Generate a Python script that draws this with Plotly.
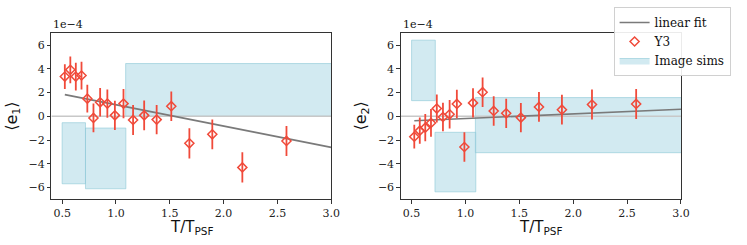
import plotly.graph_objects as go

# ---- data (y values in units of 1e-4) ----
t_ratio = [0.525, 0.576, 0.627, 0.680, 0.734, 0.791, 0.853, 0.920, 0.990, 1.070,
           1.159, 1.262, 1.378, 1.514, 1.682, 1.895, 2.174, 2.584]
e1_vals = [3.35, 3.92, 3.35, 3.44, 1.49, -0.14, 1.18, 1.07, 0.08, 1.07,
           -0.31, 0.08, -0.28, 0.85, -2.28, -1.52, -4.31, -2.08]
e1_errs = [1.04, 1.13, 1.17, 1.17, 1.18, 1.21, 1.20, 1.20, 1.24, 1.24,
           1.27, 1.25, 1.24, 1.24, 1.27, 1.25, 1.27, 1.27]
e2_vals = [-1.72, -1.21, -0.96, -0.56, 0.65, -0.06, 0.17, 1.04, -2.59, 1.13,
           2.03, 0.45, 0.25, -0.11, 0.79, 0.56, 0.99, 1.04]
e2_errs = [1.00, 1.10, 1.15, 1.17, 1.18, 1.20, 1.20, 1.20, 1.25, 1.24,
           1.25, 1.25, 1.24, 1.24, 1.25, 1.25, 1.27, 1.27]

fit_x = [0.525, 3.0]
fit_e1 = [1.83, -2.62]
fit_e2 = [-0.37, 0.59]

# image-sim boxes: [x0, x1, y0, y1]
sims_e1 = [[0.50, 0.717, -5.69, -0.54], [0.717, 1.092, -6.11, -0.99], [1.090, 3.05, 0.0, 4.45]]
sims_e2 = [[0.50, 0.720, 1.32, 6.42], [0.717, 1.096, -6.37, -1.35], [1.092, 3.05, -3.07, 1.58]]

x_ticks = [0.5, 1.0, 1.5, 2.0, 2.5, 3.0]
y_ticks = [-6, -4, -2, 0, 2, 4, 6]
x_range = [0.4, 3.0]
y_range = [-7, 7]

RED = "#f04a3a"
GRAY = "#7a7a7a"
FILL = "rgba(173,216,230,0.55)"
EDGE = "rgba(140,200,215,0.6)"
SERIF = "DejaVu Serif"
SANS = "DejaVu Sans"

fig = go.Figure()

def add_panel(xa, ya, vals, errs, fit_y, sims, show):
    for i, (x0, x1, y0, y1) in enumerate(sims):
        fig.add_trace(go.Scatter(
            x=[x0, x1, x1, x0, x0], y=[y0, y0, y1, y1, y0], mode="lines",
            fill="toself", fillcolor=FILL, line=dict(color=EDGE, width=1),
            name="Image sims", legendgroup="sims", showlegend=(show and i == 0),
            legendrank=3, xaxis=xa, yaxis=ya, hoverinfo="skip"))
    fig.add_trace(go.Scatter(
        x=[x_range[0], x_range[1]], y=[0, 0], mode="lines",
        line=dict(color="#c8c8c8", width=1.5), showlegend=False,
        xaxis=xa, yaxis=ya, hoverinfo="skip"))
    fig.add_trace(go.Scatter(
        x=fit_x, y=fit_y, mode="lines", line=dict(color=GRAY, width=1.6),
        name="linear fit", legendgroup="fit", showlegend=show, legendrank=1,
        xaxis=xa, yaxis=ya))
    fig.add_trace(go.Scatter(
        x=t_ratio, y=vals, mode="markers",
        marker=dict(symbol="diamond-open", size=7, color=RED, line=dict(width=1.5, color=RED)),
        error_y=dict(type="data", array=errs, color=RED, thickness=1.8, width=0),
        name="Y3", legendgroup="y3", showlegend=show, legendrank=2,
        xaxis=xa, yaxis=ya))

add_panel("x", "y", e1_vals, e1_errs, fit_e1, sims_e1, False)
add_panel("x2", "y2", e2_vals, e2_errs, fit_e2, sims_e2, True)

W, H = 747, 245
ytop = 1 - 33.3 / H
ybot = 1 - 199.3 / H

axis_common = dict(showline=True, linecolor="#333", linewidth=1, mirror=True,
                   ticks="outside", ticklen=3.5, tickcolor="#333", showgrid=False,
                   zeroline=False, tickfont=dict(family=SERIF, size=11, color="#222"))

def ann(text, x, y, size, family, angle=0, xanchor="center", yanchor="middle"):
    return dict(text=text, xref="paper", yref="paper", x=x / W, y=1 - y / H,
                xanchor=xanchor, yanchor=yanchor, showarrow=False, textangle=angle,
                font=dict(family=family, size=size, color="#111"))

fig.update_layout(
    width=W, height=H, margin=dict(l=0, r=0, t=0, b=0),
    plot_bgcolor="white", paper_bgcolor="white", hovermode=False,
    xaxis=dict(domain=[52 / W, 335.3 / W], range=x_range, tickvals=x_ticks,
               tickformat=".1f", anchor="y", **axis_common),
    yaxis=dict(domain=[ybot, ytop], range=y_range, tickvals=y_ticks, anchor="x",
               **axis_common),
    xaxis2=dict(domain=[405.7 / W, 689.3 / W], range=x_range, tickvals=x_ticks,
                tickformat=".1f", anchor="y2", **axis_common),
    yaxis2=dict(domain=[ybot, ytop], range=y_range, tickvals=y_ticks, anchor="x2",
                **axis_common),
    legend=dict(x=739.5 / W, y=1 - 7 / H, xanchor="right", yanchor="top",
                bgcolor="rgba(255,255,255,0.9)", bordercolor="#d0d0d0", borderwidth=1,
                font=dict(family=SERIF, size=12, color="#111"), tracegroupgap=0,
                itemwidth=30, traceorder="normal"),
    annotations=[
        ann("1e\u22124", 52, 33.3, 11, SERIF, xanchor="left", yanchor="bottom"),
        ann("1e\u22124", 405.7, 33.3, 11, SERIF, xanchor="left", yanchor="bottom"),
        ann("T/T<sub>PSF</sub>", 193.7, 227, 15, SANS),
        ann("T/T<sub>PSF</sub>", 547.5, 227, 15, SANS),
        ann("⟨e<sub>1</sub>⟩", 12, 116, 16, SANS, angle=-90),
        ann("⟨e<sub>2</sub>⟩", 365, 116, 16, SANS, angle=-90),
    ],
)

fig.write_html("out.html", config={"displayModeBar": False},
               post_script="document.body.style.margin='0';document.body.style.overflow='hidden';")
